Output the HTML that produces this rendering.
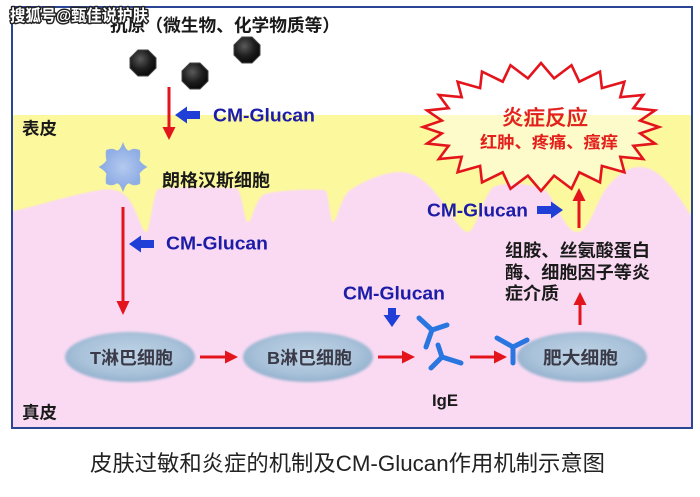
<!DOCTYPE html>
<html><head><meta charset="utf-8"><style>
html,body{margin:0;padding:0;background:#fff;}
svg{display:block;}
text{font-family:"Liberation Sans","Noto Sans CJK SC",sans-serif;}
</style></head><body>
<svg width="700" height="497" viewBox="0 0 700 497" xmlns="http://www.w3.org/2000/svg">
<defs>
<radialGradient id="ball" cx="40%" cy="35%" r="65%">
<stop offset="0" stop-color="#5a5a5a"/><stop offset="0.6" stop-color="#1e1e1e"/><stop offset="1" stop-color="#0a0a0a"/>
</radialGradient>
<radialGradient id="cell" cx="50%" cy="45%" r="55%">
<stop offset="0" stop-color="#bfd3e5"/><stop offset="0.7" stop-color="#a9c2da"/><stop offset="1" stop-color="#93b1cd"/>
</radialGradient>
<radialGradient id="lang" cx="50%" cy="50%" r="55%">
<stop offset="0" stop-color="#b3c9ef"/><stop offset="1" stop-color="#86a6e2"/>
</radialGradient>
<filter id="soft" x="-10%" y="-20%" width="120%" height="140%"><feGaussianBlur stdDeviation="1.2"/></filter>
<filter id="soft2"><feGaussianBlur stdDeviation="0.8"/></filter>
<clipPath id="frame"><rect x="12" y="7" width="680" height="421"/></clipPath>
</defs>

<g clip-path="url(#frame)">
<rect x="12" y="7" width="680" height="421" fill="#ffffff"/>
<rect x="12" y="115" width="680" height="313" fill="#fcf89d"/>
<path filter="url(#soft2)" fill="#fadaf3" d="M10,212 C40,205 70,195 100,190 C120,187 128,195 135,210 C140,222 143,232 146,232 C150,232 152,200 157,190 C160,186 200,187 236,188 C242,189 244,222 248,222 C252,222 255,198 265,194 C280,190 310,189 325,190 C329,192 330,222 333,222 C337,222 340,198 350,190 C365,180 385,172 400,172 C420,172 435,190 448,210 C458,225 463,232 468,232 C475,232 482,200 492,188 C500,182 530,182 545,190 C555,198 565,232 577,232 C590,232 596,200 608,186 C620,172 630,167 640,167 C660,167 675,190 694,220 L694,430 L10,430 Z"/>
</g>
<rect x="12" y="7" width="680" height="421" fill="none" stroke="#2b4595" stroke-width="2"/>

<!-- antigens -->
<g stroke="#444" stroke-width="1">
<polygon fill="url(#ball)" points="138,50 148,50 156,58 156,68 148,76 138,76 130,68 130,58"/>
<polygon fill="url(#ball)" points="190,63 200,63 208,71 208,81 200,89 190,89 182,81 182,71"/>
<polygon fill="url(#ball)" points="242,37 252,37 260,45 260,55 252,63 242,63 234,55 234,45"/>
</g>

<!-- burst -->
<polygon fill="rgba(255,255,255,0.45)" stroke="#e3141c" stroke-width="2.6" stroke-linejoin="miter" points="659,127 640.1,133.4 655,143.6 633.4,145.8 643.2,159 620.3,156.8 624.4,172.3 601.9,165.9 600,182.4 579.3,172.3 571.5,188.8 554.1,175.6 541,191 527.9,175.6 510.5,188.8 502.7,172.3 482,182.4 480.1,165.9 457.6,172.3 461.7,156.8 438.8,159 448.6,145.8 427,143.6 441.9,133.4 423,127 441.9,120.6 427,110.4 448.6,108.2 438.8,95 461.7,97.2 457.6,81.7 480.1,88.1 482,71.6 502.7,81.7 510.5,65.2 527.9,78.4 541,63 554.1,78.4 571.5,65.2 579.3,81.7 600,71.6 601.9,88.1 624.4,81.7 620.3,97.2 643.2,95 633.4,108.2 655,110.4 640.1,120.6"/>
<text x="502" y="125" font-size="21" font-weight="500" fill="#e3201c" stroke="#e3201c" stroke-width="0.3" textLength="86" lengthAdjust="spacingAndGlyphs">炎症反应</text>
<text x="480" y="148" font-size="16.5" font-weight="bold" fill="#e3201c" textLength="138" lengthAdjust="spacingAndGlyphs">红肿、疼痛、瘙痒</text>

<!-- Langerhans cell -->
<path fill="url(#lang)" stroke="#93b0e4" stroke-width="1.5" d="M123,144 Q126,152 129.5,151.3 Q134,148 139.3,150.7 Q140,156 138.7,160.5 Q141,164 146,167 Q141,170 138.7,173.5 Q140,178 139.3,183.3 Q134,186 129.5,182.7 Q126,182 123,190 Q120,182 116.5,182.7 Q112,186 106.7,183.3 Q106,178 107.3,173.5 Q105,170 100,167 Q105,164 107.3,160.5 Q106,156 106.7,150.7 Q112,148 116.5,151.3 Q120,152 123,144 Z"/>

<!-- cells -->
<g filter="url(#soft)">
<ellipse cx="130" cy="357" rx="65" ry="25" fill="url(#cell)"/>
<ellipse cx="308" cy="357" rx="65" ry="25" fill="url(#cell)"/>
<ellipse cx="582" cy="357" rx="65" ry="25" fill="url(#cell)"/>
</g>

<!-- red arrows -->
<g stroke="#e3141c" stroke-width="3">
<line x1="169" y1="87" x2="169" y2="129"/>
<line x1="123" y1="207" x2="123" y2="303"/>
<line x1="200" y1="357" x2="227" y2="357"/>
<line x1="378" y1="357" x2="404" y2="357"/>
<line x1="470" y1="357" x2="496" y2="357"/>
<line x1="580" y1="325" x2="580" y2="303"/>
<line x1="579" y1="228" x2="579" y2="199"/>
</g>
<g fill="#e3141c">
<polygon points="162.5,127 175.5,127 169,140"/>
<polygon points="116.5,301 129.5,301 123,315"/>
<polygon points="225,350.5 225,363.5 238,357"/>
<polygon points="402,350.5 402,363.5 415,357"/>
<polygon points="494,350.5 494,363.5 507,357"/>
<polygon points="573.5,305 586.5,305 580,292"/>
<polygon points="572.5,201 585.5,201 579,188"/>
</g>

<!-- blue arrows -->
<g fill="#1f3fd6">
<polygon points="175,115 187,106.5 187,111 200,111 200,119 187,119 187,123.5"/>
<polygon points="129,244 141,235.5 141,240 154,240 154,248 141,248 141,252.5"/>
<polygon points="563,210 551,201.5 551,206 537,206 537,214 551,214 551,218.5"/>
<polygon points="392,327 383.5,315 388,315 388,308 396,308 396,315 400.5,315"/>
</g>

<!-- IgE -->
<g stroke="#2a76e0" stroke-width="5" stroke-linecap="round" fill="none">
<path d="M419,318 L432,330 L447,325 M432,330 L426,347"/>
<path d="M438,345 L442,357 L461,363 M442,357 L431,368"/>
<path d="M497,338 L513,347 L527,340 M513,347 L513,363"/>
</g>

<!-- CM-Glucan labels -->
<g font-size="18" font-weight="bold" fill="#1c1ca8">
<text x="213" y="121.5" textLength="102" lengthAdjust="spacingAndGlyphs">CM-Glucan</text>
<text x="166" y="249.5" textLength="102" lengthAdjust="spacingAndGlyphs">CM-Glucan</text>
<text x="427" y="216.5" textLength="101" lengthAdjust="spacingAndGlyphs">CM-Glucan</text>
<text x="343" y="299.5" textLength="102" lengthAdjust="spacingAndGlyphs">CM-Glucan</text>
</g>

<!-- black labels -->
<g font-weight="bold" fill="#1a1a1a">
<text x="110" y="31.5" font-size="17.5" textLength="230" lengthAdjust="spacingAndGlyphs">抗原（微生物、化学物质等）</text>
<text x="22" y="134.5" font-size="17" textLength="35" lengthAdjust="spacingAndGlyphs">表皮</text>
<text x="162" y="186.5" font-size="17.5" textLength="108" lengthAdjust="spacingAndGlyphs">朗格汉斯细胞</text>
<text x="22" y="418.5" font-size="17" textLength="35" lengthAdjust="spacingAndGlyphs">真皮</text>
<text x="432" y="406" font-size="17" textLength="26" lengthAdjust="spacingAndGlyphs">IgE</text>
<text x="505" y="256.5" font-size="17.5" textLength="145" lengthAdjust="spacingAndGlyphs">组胺、丝氨酸蛋白</text>
<text x="505" y="278.5" font-size="17.5" textLength="145" lengthAdjust="spacingAndGlyphs">酶、细胞因子等炎</text>
<text x="505" y="299.5" font-size="17.5" textLength="54" lengthAdjust="spacingAndGlyphs">症介质</text>
</g>
<g font-weight="bold" fill="#3a3a48" font-size="17.5">
<text x="90" y="364" textLength="83" lengthAdjust="spacingAndGlyphs">T淋巴细胞</text>
<text x="267" y="364" textLength="85" lengthAdjust="spacingAndGlyphs">B淋巴细胞</text>
<text x="543" y="364" textLength="75" lengthAdjust="spacingAndGlyphs">肥大细胞</text>
</g>

<!-- watermark -->
<text x="10" y="21" font-size="16" font-weight="bold" fill="#ffffff" stroke="#222" stroke-width="3" paint-order="stroke" stroke-linejoin="round" textLength="138" lengthAdjust="spacingAndGlyphs">搜狐号@甄佳说护肤</text>

<!-- caption -->
<text x="90" y="471" font-size="22" fill="#222" textLength="515" lengthAdjust="spacingAndGlyphs">皮肤过敏和炎症的机制及CM-Glucan作用机制示意图</text>
</svg>
</body></html>
